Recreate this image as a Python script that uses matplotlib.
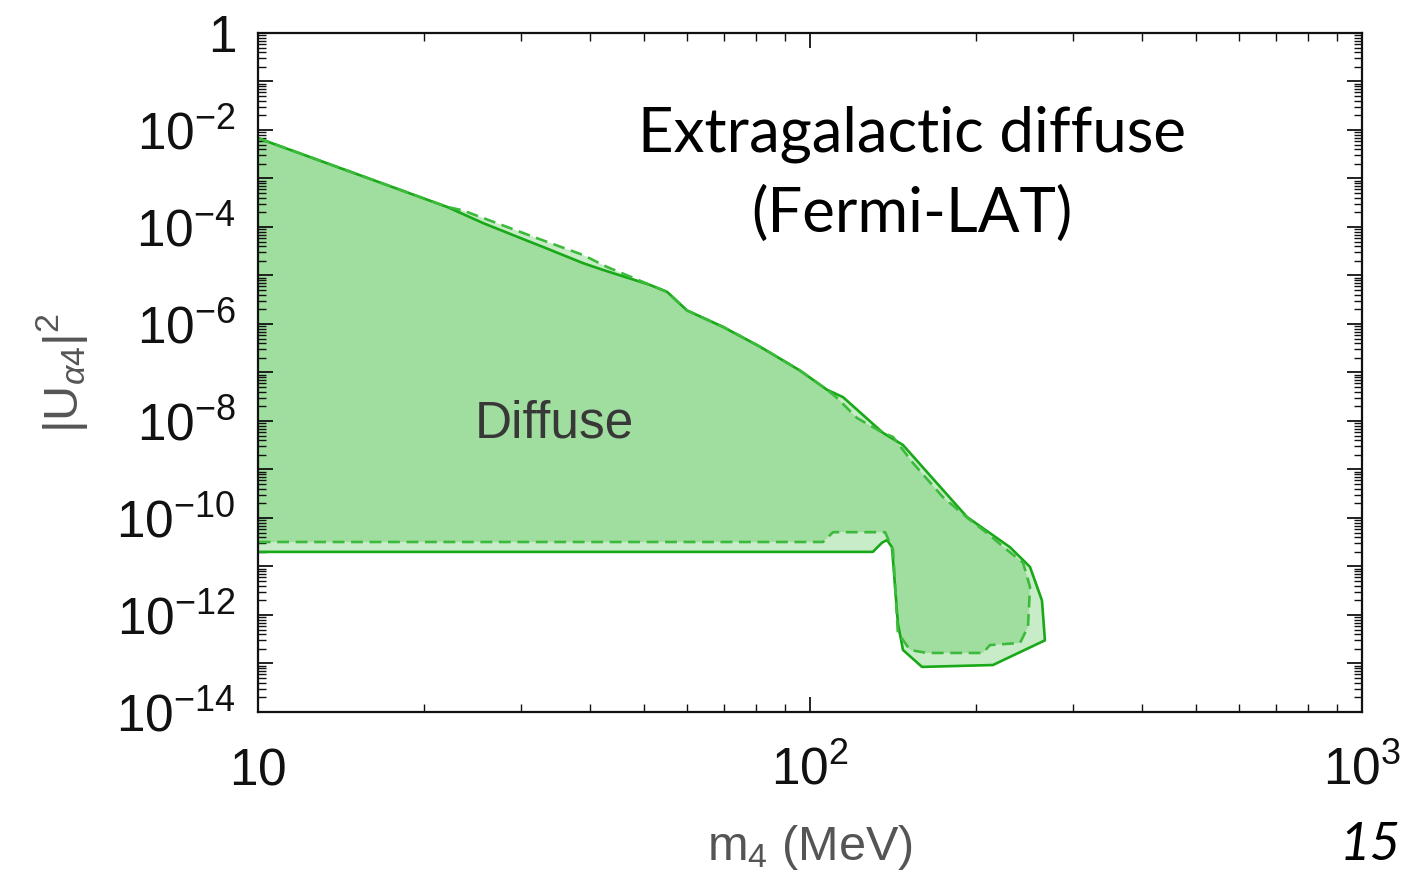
import numpy as np
import matplotlib
matplotlib.use('Agg')
import matplotlib.pyplot as plt
from matplotlib.ticker import LogLocator, NullFormatter

plt.rcParams['font.family'] = 'Liberation Sans'
plt.rcParams['mathtext.fontset'] = 'custom'
plt.rcParams['mathtext.rm'] = 'Liberation Sans'
plt.rcParams['mathtext.it'] = 'Liberation Sans:italic'
plt.rcParams['mathtext.bf'] = 'Liberation Sans:bold'

# 1. contours (m4 in MeV, |U|^2)
# solid contour, closed polygon
m_solid = [10, 22.0, 25.6, 30.5, 32.8, 38.8, 42.2, 51.3, 55.1, 59.9, 69.6, 81.2,
           95.9, 107.4, 114.8, 135.6, 147.4, 192.5, 230.3, 250.4, 263.2, 266.5,
           214.5, 159.6, 147.4, 144.3, 140.8, 137.9, 135.1, 130.0, 10]
u_solid = [6.8e-3, 2.6e-4, 1.2e-4, 5.4e-5, 3.9e-5, 1.8e-5, 1.3e-5, 6.4e-6, 4.6e-6,
           1.9e-6, 8.7e-7, 3.4e-7, 1.1e-7, 4.4e-8, 3.1e-8, 5.7e-9, 3.2e-9, 1.05e-10,
           2.5e-11, 9.8e-12, 2.0e-12, 3.0e-13, 9.3e-14, 8.5e-14, 1.9e-13, 6.8e-13,
           2.5e-11, 3.5e-11, 3.1e-11, 2.0e-11, 2.0e-11]

# dashed contour, closed polygon
m_dash = [10, 22.0, 23.5, 32.0, 38.8, 42.9, 51.3, 55.1, 59.9, 69.6, 81.2, 95.9,
          107.4, 111.9, 121.7, 135.6, 141.4, 153.7, 174.1, 195.0, 209.3, 227.5,
          243.2, 250.4, 248.3, 240.2, 211.9, 205.8, 162.9, 151.8, 144.3, 141.4,
          136.8, 110.1, 105.6, 10]
u_dash = [6.8e-3, 2.6e-4, 2.2e-4, 5.9e-5, 2.65e-5, 1.5e-5, 6.4e-6, 4.6e-6, 1.9e-6,
          8.7e-7, 3.4e-7, 1.1e-7, 4.4e-8, 3.0e-8, 1.15e-8, 5.7e-9, 4.7e-9, 1.36e-9,
          2.7e-10, 9.1e-11, 4.9e-11, 2.2e-11, 1.2e-11, 3.8e-12, 5.7e-13, 2.65e-13,
          2.4e-13, 1.65e-13, 1.65e-13, 1.9e-13, 4.3e-13, 2.2e-11, 5.1e-11, 5.1e-11,
          3.2e-11, 3.2e-11]

x_ticks = [10, 100, 1000]
x_labels = ['$10$', '$10^2$', '$10^3$']
y_exp = np.arange(-14, 1)
y_ticks = [10.0 ** e for e in y_exp]
y_labels = ['' if e % 2 else ('$1$' if e == 0 else '$10^{%d}$' % e) for e in y_exp]

fill_col = '#36b936'
line_col = '#18a818'
dash_col = '#3cba3c'

# 2. figure
fig = plt.figure(figsize=(14.08, 8.75), dpi=100)
ax = fig.add_axes([0.1832, 0.1863, 0.7841, 0.7760])
ax.set_xscale('log')
ax.set_yscale('log')

ax.fill(m_solid, u_solid, color=fill_col, alpha=0.27, lw=0)
ax.fill(m_dash, u_dash, color=fill_col, alpha=0.27, lw=0)
ax.plot(m_solid, u_solid, '-', color=line_col, lw=1.9)
ax.plot(m_dash, u_dash, color=dash_col, lw=1.9, ls=(0, (4.5, 2.5)))

ax.set_xlim(10, 1000)
ax.set_ylim(1e-14, 1)

ax.set_xticks(x_ticks, x_labels)
ax.set_yticks(y_ticks, y_labels)
ax.xaxis.set_minor_locator(LogLocator(base=10, subs=np.arange(2, 10), numticks=100))
ax.yaxis.set_minor_locator(LogLocator(base=10, subs=np.arange(2, 10), numticks=100))
ax.xaxis.set_minor_formatter(NullFormatter())
ax.yaxis.set_minor_formatter(NullFormatter())

ax.tick_params(which='both', direction='in', top=True, right=True, colors='#111111')
ax.tick_params(which='major', length=11, width=1.3, labelsize=37)
ax.tick_params(which='minor', length=5.5, width=1.0)
ax.tick_params(axis='y', pad=16)
ax.tick_params(axis='x', pad=52)
for lbl in ax.get_xticklabels():
    lbl.set_va('baseline')
for sp in ax.spines.values():
    sp.set_linewidth(1.6)
    sp.set_color('#111111')

ax.set_xlabel('m$_4$ (MeV)', fontsize=35, color='#555555')
ax.xaxis.set_label_coords(0.5, -0.163)
ax.set_ylabel(r'|U$_{\alpha 4}$|$^2$', fontsize=35, color='#555555')
ax.yaxis.set_label_coords(-0.152, 0.5)

ax.text(34.5, 4.5e-9, 'Diffuse', fontsize=37, color='#383838', ha='center', va='baseline')
ax.text(0.592, 0.826, 'Extragalactic diffuse', transform=ax.transAxes, fontsize=44.5,
        family='Lato', ha='center', va='baseline', color='black')
ax.text(0.592, 0.707, '(Fermi-LAT)', transform=ax.transAxes, fontsize=44.5,
        family='Lato', ha='center', va='baseline', color='black')

fig.text(0.973, 0.017, '15', fontsize=38, family='Lato', style='italic',
         ha='center', va='baseline', color='black')

fig.savefig('out.png', dpi=100)
